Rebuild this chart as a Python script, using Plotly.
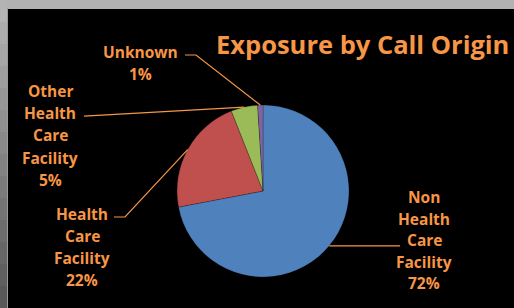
import math
import plotly.graph_objects as go

# ---- data ----
categories = ["Non Health Care Facility", "Health Care Facility", "Other Health Care Facility", "Unknown"]
values = [72, 22, 5, 1]
label_lines = [
    ["Non", "Health", "Care", "Facility", "72%"],
    ["Health", "Care", "Facility", "22%"],
    ["Other", "Health", "Care", "Facility", "5%"],
    ["Unknown", "1%"],
]
colors = ["#4F81BD", "#C0504D", "#9BBB59", "#8064A2"]
title_text = "Exposure by Call Origin"

W, H = 514, 308
ORANGE = "#F79646"
FONT = "Open Sans"

def px(x):
    return x / W

def py(y):
    return 1 - y / H

# pie geometry (pixels)
cx, cy, r = 263, 191, 86

fig = go.Figure()
fig.add_trace(go.Pie(
    labels=categories, values=values, sort=False, direction="clockwise", rotation=0,
    marker=dict(colors=colors, line=dict(width=0.6, color="rgba(0,0,0,0.35)")),
    textinfo="none", showlegend=False, hoverinfo="label+percent",
    domain=dict(x=[px(cx - r), px(cx + r)], y=[py(cy + r), py(cy - r)]),
))

shapes = []
# background frame: grey border with black panel
bands = 14
for i in range(bands):
    t = i / (bands - 1)
    g = int(180 - (180 - 88) * t)
    shapes.append(dict(type="rect", xref="paper", yref="paper", layer="below",
                       x0=0, x1=px(7), y0=py(H * (i + 1) / bands), y1=py(H * i / bands),
                       fillcolor=f"rgb({g},{g},{g})", line=dict(width=0)))
shapes.append(dict(type="rect", xref="paper", yref="paper", layer="below",
                   x0=px(7), x1=px(8), y0=0, y1=py(8), fillcolor="#9a9a9a", line=dict(width=0)))
shapes.append(dict(type="rect", xref="paper", yref="paper", layer="below",
                   x0=px(8), x1=1, y0=0, y1=py(9), fillcolor="#000000", line=dict(width=0)))

# label layout: (center x, first line y, line spacing, elbow start, elbow bend)
label_pos = [
    (424, 197, 21.5, (400, None), None),
    (82, 214, 22, (114, None), (125, None)),
    (50, 91, 22.2, (84, None), None),
    (140, 52, 22, (185, None), (196, None)),
]
elbow_line = [2, 0, 1, 0]  # which text line the leader attaches to

annotations = []
total = sum(values)
cum = 0
for i, v in enumerate(values):
    mid = (cum + v / 2) / total * 2 * math.pi
    cum += v
    ex = cx + r * math.sin(mid)
    ey = cy - r * math.cos(mid)
    lx, ly0, sp, start, bend = label_pos[i]
    for j, line in enumerate(label_lines[i]):
        annotations.append(dict(text=f"<b>{line}</b>", x=px(lx), y=py(ly0 + j * sp),
                                xref="paper", yref="paper", xanchor="center", yanchor="middle",
                                showarrow=False, font=dict(family=FONT, size=15.5, color=ORANGE)))
    ay = ly0 + elbow_line[i] * sp + (3 if i != 0 else 0)
    if i == 0:
        ay = ey
    pts = [(start[0], ay)]
    if bend is not None:
        pts.append((bend[0], ay))
    pts.append((ex, ey))
    path = "M " + " L ".join(f"{px(a):.5f},{py(b):.5f}" for a, b in pts)
    shapes.append(dict(type="path", xref="paper", yref="paper", path=path,
                       line=dict(color=ORANGE, width=1.2)))

annotations.append(dict(text=f"<b>{title_text}</b>", x=px(362), y=py(44), xref="paper", yref="paper",
                        xanchor="center", yanchor="middle", showarrow=False,
                        font=dict(family=FONT, size=25.5, color=ORANGE)))

fig.update_layout(
    width=W, height=H, margin=dict(l=0, r=0, t=0, b=0),
    paper_bgcolor="#b2b2b2", plot_bgcolor="#000000",
    shapes=shapes, annotations=annotations,
)
fig.write_html("out.html", config={"displayModeBar": False},
               post_script="document.body.style.margin='0';document.body.style.overflow='hidden';")
